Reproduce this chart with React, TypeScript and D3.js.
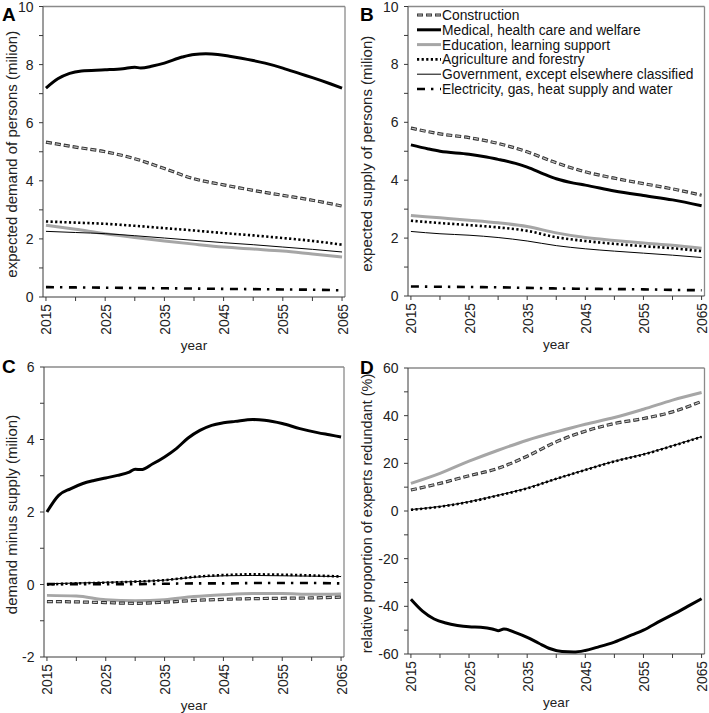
import React from "react";
import * as d3 from "d3";

// ---------- data ----------
const YEARS5 = [2015, 2020, 2025, 2030, 2035, 2040, 2045, 2050, 2055, 2060, 2065];
const X_TICKS = [2015, 2020, 2025, 2030, 2035, 2040, 2045, 2050, 2055, 2060, 2065];
const X_LABELS = [2015, 2025, 2035, 2045, 2055, 2065];

const SERIES_NAMES = [
  "Construction",
  "Medical, health care and welfare",
  "Education, learning support",
  "Agriculture and forestry",
  "Government, except elsewhere classified",
  "Electricity, gas, heat supply and water",
];

// Panel A: expected demand (million)
const A_MED_YEARS = [2015, 2017, 2019, 2021, 2025, 2028, 2030, 2031, 2033, 2035, 2038, 2040, 2042, 2044, 2046, 2048, 2050, 2052, 2055, 2058, 2060, 2063, 2065];
const A_MED = [7.19, 7.51, 7.7, 7.78, 7.82, 7.86, 7.91, 7.88, 7.95, 8.05, 8.26, 8.35, 8.37, 8.35, 8.29, 8.22, 8.14, 8.05, 7.88, 7.68, 7.55, 7.34, 7.19];
const A_CONS = [5.33, 5.16, 5.0, 4.76, 4.42, 4.07, 3.86, 3.67, 3.5, 3.33, 3.13];
const A_AGRI = [2.6, 2.56, 2.52, 2.45, 2.37, 2.29, 2.2, 2.12, 2.03, 1.93, 1.8];
const A_EDU = [2.47, 2.33, 2.18, 2.05, 1.93, 1.82, 1.72, 1.65, 1.58, 1.48, 1.38];
const A_GOV = [2.26, 2.22, 2.18, 2.11, 2.03, 1.95, 1.87, 1.8, 1.72, 1.64, 1.55];
const A_ELEC = [0.34, 0.33, 0.32, 0.31, 0.3, 0.29, 0.28, 0.27, 0.26, 0.25, 0.23];

// Panel B: expected supply (million)
const B_MED_YEARS = [2015, 2018, 2020, 2025, 2028, 2030, 2031, 2033, 2035, 2038, 2040, 2043, 2045, 2050, 2055, 2060, 2065];
const B_MED = [5.22, 5.08, 5.0, 4.9, 4.8, 4.72, 4.68, 4.58, 4.45, 4.2, 4.05, 3.9, 3.83, 3.63, 3.47, 3.32, 3.12];
const B_CONS = [5.8, 5.6, 5.47, 5.27, 4.98, 4.6, 4.29, 4.07, 3.88, 3.7, 3.48];
const B_EDU = [2.78, 2.7, 2.62, 2.53, 2.4, 2.18, 2.02, 1.92, 1.83, 1.75, 1.65];
const B_AGRI = [2.6, 2.52, 2.45, 2.37, 2.25, 2.03, 1.9, 1.8, 1.72, 1.65, 1.55];
const B_GOV = [2.23, 2.15, 2.1, 2.02, 1.9, 1.74, 1.63, 1.55, 1.48, 1.41, 1.33];
const B_ELEC = [0.33, 0.32, 0.31, 0.3, 0.28, 0.26, 0.25, 0.24, 0.23, 0.21, 0.2];

// Panel C: demand minus supply (million)
const C_MED_YEARS = [2015, 2017, 2019, 2021, 2023, 2025, 2027, 2029, 2030, 2031, 2033, 2035, 2037, 2039, 2041, 2043, 2045, 2047, 2050, 2052, 2055, 2058, 2061, 2063, 2065];
const C_MED = [2.0, 2.46, 2.64, 2.78, 2.87, 2.94, 3.01, 3.1, 3.18, 3.17, 3.33, 3.52, 3.75, 4.04, 4.25, 4.39, 4.46, 4.5, 4.55, 4.53, 4.44, 4.3, 4.19, 4.13, 4.07];
const C_AGRI = [0.0, 0.03, 0.05, 0.08, 0.12, 0.21, 0.26, 0.28, 0.27, 0.25, 0.22];
const C_GOV = [0.02, 0.04, 0.06, 0.08, 0.12, 0.2, 0.24, 0.25, 0.24, 0.23, 0.22];
const C_ELEC = [0.01, 0.01, 0.01, 0.01, 0.02, 0.03, 0.03, 0.04, 0.04, 0.04, 0.03];
const C_EDU = [-0.3, -0.32, -0.42, -0.45, -0.42, -0.33, -0.28, -0.25, -0.25, -0.27, -0.26];
const C_CONS = [-0.47, -0.48, -0.5, -0.52, -0.49, -0.44, -0.41, -0.39, -0.38, -0.37, -0.35];

// Panel D: relative proportion of experts redundant (%)
const D_MED_YEARS = [2015, 2017, 2019, 2021, 2023, 2025, 2027, 2029, 2030, 2031, 2033, 2035, 2037, 2039, 2041, 2043, 2045, 2047, 2050, 2053, 2055, 2058, 2060, 2063, 2065];
const D_MED = [-37, -42, -45.3, -47, -48, -48.6, -48.8, -49.5, -50.2, -49.5, -51, -53, -55.5, -57.8, -59, -59.2, -58.5, -57.2, -55, -52, -50, -46, -43.5, -39.5, -36.8];
const D_EDU = [11.6, 15.8, 20.9, 25.5, 29.7, 33.2, 36.4, 39.2, 42.7, 46.5, 49.7];
const D_CONS = [8.8, 11.6, 14.8, 17.9, 23.0, 29.0, 33.5, 36.7, 38.8, 41.6, 46.0];
const D_AGRI = [0.5, 1.8, 3.8, 6.5, 9.5, 13.5, 17.2, 20.8, 23.7, 27.3, 31.1];
const D_GOV = [0.6, 1.9, 3.9, 6.6, 9.6, 13.5, 17.3, 20.9, 23.8, 27.4, 31.2];

// ---------- styles ----------
const FONT = "'Liberation Sans', Arial, Helvetica, sans-serif";
const AXIS_COLOR = "#3a3a3a";
const FRAME_COLOR = "#8a8a8a";

type Kind = "cons" | "med" | "edu" | "agri" | "gov" | "elec";

function zip(xs: number[], ys: number[]): [number, number][] {
  return xs.map((x, i) => [x, ys[i]]);
}

function SeriesPath({ d, kind }: { d: string; kind: Kind }) {
  if (kind === "cons") {
    return (
      <g>
        <path d={d} fill="none" stroke="#333" strokeWidth={3.2} strokeDasharray="6 3" />
        <path d={d} fill="none" stroke="#c4c4c4" strokeWidth={1.2} strokeDasharray="4.4 4.6" strokeDashoffset={-0.8} />
      </g>
    );
  }
  if (kind === "med") return <path d={d} fill="none" stroke="#000" strokeWidth={3} />;
  if (kind === "edu") return <path d={d} fill="none" stroke="#a6a6a6" strokeWidth={3} />;
  if (kind === "agri") return <path d={d} fill="none" stroke="#000" strokeWidth={2.6} strokeDasharray="2.2 2.4" />;
  if (kind === "gov") return <path d={d} fill="none" stroke="#000" strokeWidth={1} />;
  return <path d={d} fill="none" stroke="#000" strokeWidth={2.6} strokeDasharray="8 6 2.4 6.6" />;
}

type PanelProps = {
  letter: string;
  left: number;
  right: number;
  top: number;
  bottom: number;
  yDomain: [number, number];
  yMajor: number[];
  yMinor: number[];
  yTitle: string;
  titleSize: number;
  series: { kind: Kind; years: number[]; values: number[] }[];
  letterX: number;
  letterY: number;
  titleX: number;
};

function Panel(p: PanelProps) {
  const x = d3.scaleLinear().domain([2014.5, 2065.5]).range([p.left, p.right]);
  const y = d3.scaleLinear().domain(p.yDomain).range([p.bottom, p.top]);
  const line = d3
    .line<[number, number]>()
    .x((d) => x(d[0]))
    .y((d) => y(d[1]))
    .curve(d3.curveMonotoneX);
  const cy = (p.top + p.bottom) / 2 + 2.5;
  return (
    <g>
      {/* frame top and right */}
      <line x1={p.left} x2={p.right} y1={p.top} y2={p.top} stroke={FRAME_COLOR} strokeWidth={1.3} />
      <line x1={p.right} x2={p.right} y1={p.top} y2={p.bottom} stroke={FRAME_COLOR} strokeWidth={1.3} />
      {/* series */}
      {p.series.map((s, i) => (
        <SeriesPath key={i} kind={s.kind} d={line(zip(s.years, s.values)) || ""} />
      ))}
      {/* axes */}
      <line x1={p.left} x2={p.left} y1={p.top} y2={p.bottom} stroke={AXIS_COLOR} strokeWidth={1} />
      <line x1={p.left} x2={p.right} y1={p.bottom} y2={p.bottom} stroke={AXIS_COLOR} strokeWidth={1} />
      {p.yMajor.concat(p.yMinor).map((v) => (
        <line key={"yt" + v} x1={p.left - 4} x2={p.left} y1={y(v)} y2={y(v)} stroke={AXIS_COLOR} strokeWidth={1} />
      ))}
      {p.yMajor.map((v) => (
        <text key={"yl" + v} x={p.left - 9.5} y={y(v)} dy="0.36em" textAnchor="end" fontSize={14} fontFamily={FONT} fill="#222">
          {v}
        </text>
      ))}
      {X_TICKS.map((v) => (
        <line key={"xt" + v} x1={x(v)} x2={x(v)} y1={p.bottom} y2={p.bottom + 4} stroke={AXIS_COLOR} strokeWidth={1} />
      ))}
      {X_LABELS.map((v) => (
        <text
          key={"xl" + v}
          transform={`translate(${x(v) + 0.5},${p.bottom + 7}) rotate(-90)`}
          dy="0.36em"
          textAnchor="end"
          fontSize={13.8}
          fontFamily={FONT}
          fill="#222"
        >
          {v}
        </text>
      ))}
      <text x={(p.left + p.right) / 2} y={p.bottom + 53} textAnchor="middle" fontSize={13.5} fontFamily={FONT} fill="#222">
        year
      </text>
      <text
        transform={`translate(${p.titleX},${cy}) rotate(-90)`}
        textAnchor="middle"
        fontSize={p.titleSize}
        fontFamily={FONT}
        fill="#222"
      >
        {p.yTitle}
      </text>
      <text x={p.letterX} y={p.letterY} fontSize={19} fontWeight="bold" fontFamily={FONT} fill="#000">
        {p.letter}
      </text>
    </g>
  );
}

const LEGEND_KINDS: Kind[] = ["cons", "med", "edu", "agri", "gov", "elec"];

function Legend({ x0, y0 }: { x0: number; y0: number }) {
  return (
    <g>
      {SERIES_NAMES.map((name, i) => {
        const yy = y0 + i * 14.8;
        return (
          <g key={name}>
            <SeriesPath kind={LEGEND_KINDS[i]} d={`M${x0},${yy}L${x0 + 24},${yy}`} />
            <text x={x0 + 25} y={yy} dy="0.36em" fontSize={13.8} fontFamily={FONT} fill="#111">
              {name}
            </text>
          </g>
        );
      })}
    </g>
  );
}

export default function App() {
  const yMajor10 = [0, 2, 4, 6, 8, 10];
  const yMinor10 = [1, 3, 5, 7, 9];
  return (
    <svg width={709} height={713} style={{ position: "absolute", left: 0, top: 0, background: "#fff" }}>
      <rect width={709} height={713} fill="#fff" />
      <Panel
        letter="A"
        letterX={2}
        letterY={21}
        left={43}
        right={345}
        top={6.5}
        bottom={297}
        yDomain={[0, 10]}
        yMajor={yMajor10}
        yMinor={yMinor10}
        titleX={17}
        titleSize={15}
        yTitle="expected demand of persons (milion)"
        series={[
          { kind: "edu", years: YEARS5, values: A_EDU },
          { kind: "gov", years: YEARS5, values: A_GOV },
          { kind: "agri", years: YEARS5, values: A_AGRI },
          { kind: "elec", years: YEARS5, values: A_ELEC },
          { kind: "cons", years: YEARS5, values: A_CONS },
          { kind: "med", years: A_MED_YEARS, values: A_MED },
        ]}
      />
      <Panel
        letter="B"
        letterX={360}
        letterY={21}
        left={408}
        right={704.5}
        top={6.5}
        bottom={296}
        yDomain={[0, 10]}
        yMajor={yMajor10}
        yMinor={yMinor10}
        titleX={372}
        titleSize={15}
        yTitle="expected supply of persons (milion)"
        series={[
          { kind: "edu", years: YEARS5, values: B_EDU },
          { kind: "gov", years: YEARS5, values: B_GOV },
          { kind: "agri", years: YEARS5, values: B_AGRI },
          { kind: "elec", years: YEARS5, values: B_ELEC },
          { kind: "cons", years: YEARS5, values: B_CONS },
          { kind: "med", years: B_MED_YEARS, values: B_MED },
        ]}
      />
      <Legend x0={417} y0={15} />
      <Panel
        letter="C"
        letterX={2}
        letterY={373}
        left={44}
        right={344}
        top={367}
        bottom={657}
        yDomain={[-2, 6]}
        yMajor={[-2, 0, 2, 4, 6]}
        yMinor={[-1, 1, 3, 5]}
        titleX={17}
        titleSize={15}
        yTitle="demand minus supply (milion)"
        series={[
          { kind: "edu", years: YEARS5, values: C_EDU },
          { kind: "cons", years: YEARS5, values: C_CONS },
          { kind: "gov", years: YEARS5, values: C_GOV },
          { kind: "elec", years: YEARS5, values: C_ELEC },
          { kind: "agri", years: YEARS5, values: C_AGRI },
          { kind: "med", years: C_MED_YEARS, values: C_MED },
        ]}
      />
      <Panel
        letter="D"
        letterX={360}
        letterY={374}
        left={408}
        right={704.5}
        top={368}
        bottom={654}
        yDomain={[-60, 60]}
        yMajor={[-60, -40, -20, 0, 20, 40, 60]}
        yMinor={[-50, -30, -10, 10, 30, 50]}
        titleX={372}
        titleSize={14.5}
        yTitle="relative proportion of experts redundant (%)"
        series={[
          { kind: "edu", years: YEARS5, values: D_EDU },
          { kind: "cons", years: YEARS5, values: D_CONS },
          { kind: "agri", years: YEARS5, values: D_AGRI },
          { kind: "gov", years: YEARS5, values: D_GOV },
          { kind: "med", years: D_MED_YEARS, values: D_MED },
        ]}
      />
    </svg>
  );
}
